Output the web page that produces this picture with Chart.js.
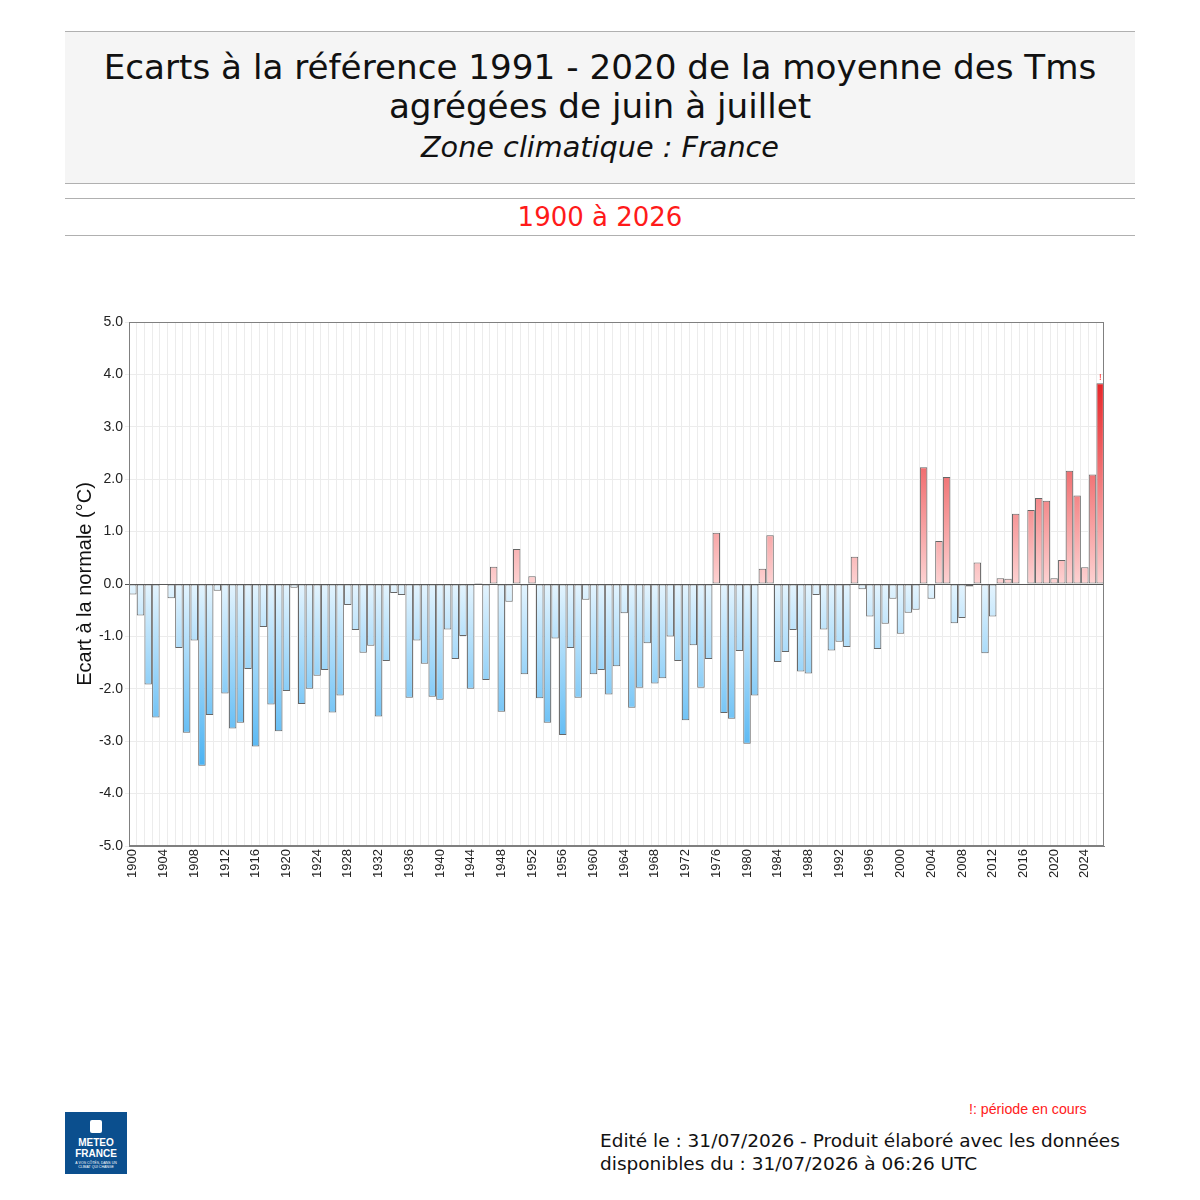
<!DOCTYPE html>
<html>
<head>
<meta charset="utf-8">
<script src="https://cdn.jsdelivr.net/npm/chart.js@4.4.1/dist/chart.umd.min.js"></script>
<style>
  body { margin: 0; width: 1200px; height: 1200px; background: #fff; position: relative; font-family: "DejaVu Sans", sans-serif; overflow: hidden; }
  #head { position: absolute; left: 65px; top: 31px; width: 1070px; height: 151px; background: #f5f5f5; border-top: 1px solid #b0b0b0; border-bottom: 1px solid #b0b0b0; text-align: center; color: #111; }
  #head .t { font-size: 34.2px; line-height: 39px; }
  #head .t1 { position: absolute; left: 0; right: 0; top: 16px; }
  #head .t2 { position: absolute; left: 0; right: 0; top: 55px; }
  #head .s { position: absolute; left: 0; right: 0; top: 98px; font-size: 28.7px; font-style: italic; }
  #band { position: absolute; left: 65px; top: 198px; width: 1070px; height: 36px; border-top: 1px solid #b0b0b0; border-bottom: 1px solid #b0b0b0; text-align: center; color: #ff1a1a; font-size: 26px; line-height: 36px; }
  #wrap { position: absolute; left: 0; top: 300px; width: 1200px; height: 620px; }
  #logo { position: absolute; left: 65px; top: 1112px; width: 62px; height: 62px; background: #0b4f8e; color: #fff; text-align: center; font-family: "Liberation Sans", sans-serif; }
  #logo .m { position: absolute; left: 0; right: 0; top: 25px; font-size: 10px; font-weight: bold; line-height: 11px; }
  #logo .c { position: absolute; left: 0; right: 0; top: 49px; font-size: 3.5px; line-height: 4px; }
  #logo .i { position: absolute; left: 25px; top: 8px; width: 12px; height: 13px; background: #fff; border-radius: 2px; }
  #cours { position: absolute; left: 969px; top: 1101px; font-family: "Liberation Sans", sans-serif; font-size: 14.2px; color: #ff2020; }
  #foot { position: absolute; left: 600px; top: 1129px; font-size: 18.5px; line-height: 23px; color: #111; }
</style>
</head>
<body>
<div id="head">
  <div class="t t1">Ecarts à la référence 1991 - 2020 de la moyenne des Tms</div>
  <div class="t t2">agrégées de juin à juillet</div>
  <div class="s">Zone climatique : France</div>
</div>
<div id="band">1900 à 2026</div>
<div id="wrap"><canvas id="chart" width="1200" height="620"></canvas></div>
<div id="logo"><div class="i"></div><div class="m">METEO<br>FRANCE</div><div class="c">À VOS CÔTÉS, DANS UN<br>CLIMAT QUI CHANGE</div></div>
<div id="cours">!: période en cours</div>
<div id="foot">Edité le : 31/07/2026 - Produit élaboré avec les données<br>disponibles du : 31/07/2026 à 06:26 UTC</div>
<script>
const years = [];
for (let y = 1900; y <= 2026; y++) years.push(String(y));

// écarts (°C), 1900 -> 2026
const ecarts = [
  -0.20, -0.60, -1.92, -2.55, -0.02, -0.27, -1.22, -2.84, -1.08, -3.47,
  -2.50, -0.13, -2.09, -2.76, -2.65, -1.62, -3.10, -0.82, -2.30, -2.81,
  -2.04, -0.07, -2.29, -2.00, -1.75, -1.64, -2.45, -2.13, -0.40, -0.88,
  -1.31, -1.18, -2.53, -1.47, -0.17, -0.21, -2.17, -1.08, -1.52, -2.15,
  -2.21, -0.87, -1.43, -0.99, -2.00, 0.02, -1.83, 0.33, -2.44, -0.34,
  0.67, -1.72, 0.15, -2.18, -2.65, -1.04, -2.88, -1.22, -2.17, -0.30,
  -1.72, -1.64, -2.11, -1.57, -0.56, -2.36, -1.98, -1.13, -1.90, -1.80,
  -1.00, -1.47, -2.60, -1.17, -1.98, -1.43, 0.98, -2.46, -2.57, -1.28,
  -3.05, -2.13, 0.29, 0.93, -1.49, -1.30, -0.88, -1.67, -1.71, -0.21,
  -0.87, -1.27, -1.10, -1.20, 0.52, -0.10, -0.62, -1.24, -0.76, -0.28,
  -0.95, -0.55, -0.49, 2.23, -0.28, 0.82, 2.04, -0.75, -0.65, -0.05,
  0.41, -1.32, -0.62, 0.11, 0.10, 1.34, -0.02, 1.41, 1.64, 1.59,
  0.11, 0.46, 2.16, 1.69, 0.32, 2.09, 3.83
];
const yTicks = [-5, -4, -3, -2, -1, 0, 1, 2, 3, 4, 5];
const currentYear = "2026";

function barColor(ctx) {
  const chart = ctx.chart;
  const area = chart.chartArea;
  if (!area) return "#9fd3f5";
  const ys = chart.scales.y;
  const v = ctx.raw;
  const c = chart.ctx;
  if (v >= 0) {
    const g = c.createLinearGradient(0, ys.getPixelForValue(0), 0, ys.getPixelForValue(3.8));
    g.addColorStop(0, "#fdd2d2");
    g.addColorStop(1, "#e8272a");
    return g;
  }
  const g = c.createLinearGradient(0, ys.getPixelForValue(0), 0, ys.getPixelForValue(-3.6));
  g.addColorStop(0, "#e4f4fe");
  g.addColorStop(1, "#45b0f2");
  return g;
}

const frame = {
  id: "frame",
  afterDraw(chart) {
    const a = chart.chartArea, c = chart.ctx;
    c.save();
    c.strokeStyle = "#808080";
    c.lineWidth = 1;
    c.strokeRect(a.left + 0.5, a.top + 0.5, a.right - a.left - 1, a.bottom - a.top - 1);
    // marqueur période en cours
    const meta = chart.getDatasetMeta(0);
    const i = years.indexOf(currentYear);
    const bar = meta.data[i];
    c.fillStyle = "#ff2020";
    c.font = "9px 'Liberation Sans'";
    c.textAlign = "center";
    c.textBaseline = "bottom";
    c.fillText("!", bar.x, bar.y - 1);
    c.restore();
  }
};

new Chart(document.getElementById("chart"), {
  type: "bar",
  data: {
    labels: years,
    datasets: [{
      data: ecarts,
      backgroundColor: barColor,
      borderColor: "#666666",
      borderWidth: 1,
      borderSkipped: false,
      barPercentage: 0.97,
      categoryPercentage: 1.0
    }]
  },
  options: {
    responsive: false,
    animation: false,
    layout: { padding: { left: 69, right: 96, top: 22, bottom: 24 } },
    plugins: { legend: { display: false }, tooltip: { enabled: false } },
    scales: {
      x: {
        afterFit(s) { s.height = 50; },
        grid: { color: "#ececec", tickLength: 4, drawTicks: false },
        border: { color: "#808080" },
        ticks: {
          autoSkip: false,
          minRotation: 90,
          maxRotation: 90,
          padding: 3,
          color: "#222",
          font: { family: "Liberation Sans", size: 13 },
          callback(v, i) { return (1900 + i) % 4 === 0 ? years[i] : ""; }
        }
      },
      y: {
        min: -5,
        max: 5,
        afterFit(s) { s.width = 60; },
        afterBuildTicks(s) { s.ticks = yTicks.map(v => ({ value: v })); },
        grid: {
          color: c => c.tick && c.tick.value === 0 ? "#555555" : "#ececec",
          lineWidth: 1,
          tickLength: 4
        },
        border: { color: "#808080" },
        ticks: {
          color: "#222",
          padding: 2,
          font: { family: "Liberation Sans", size: 14 },
          callback: v => v.toFixed(1)
        },
        title: {
          display: true,
          text: "Ecart à la normale (°C)",
          color: "#111",
          padding: { top: 4, bottom: 0 },
          font: { family: "Liberation Sans", size: 20 }
        }
      }
    }
  },
  plugins: [frame]
});
</script>
</body>
</html>
